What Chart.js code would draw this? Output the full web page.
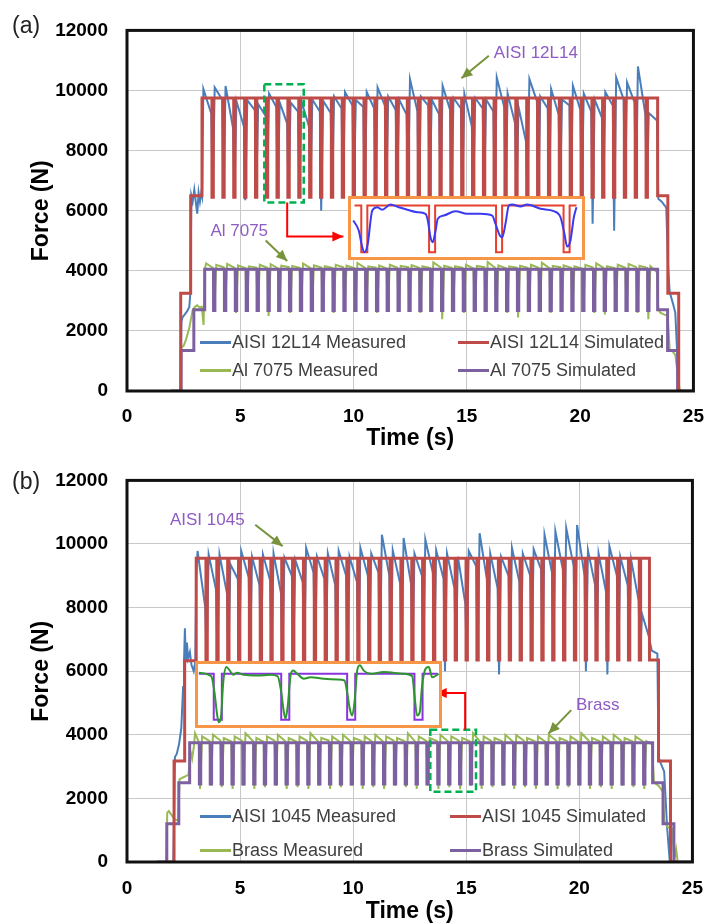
<!DOCTYPE html>
<html>
<head>
<meta charset="utf-8">
<script src="https://cdn.jsdelivr.net/npm/chart.js@4.4.1/dist/chart.umd.min.js"></script>
<style>
  body { margin: 0; background: #fff; }
  canvas { display: block; }
  #page { position: relative; width: 718px; height: 923px; font-family: "Liberation Sans", Arial, sans-serif; }
  .panel { position: absolute; left: 0; width: 718px; }
  .tag { position: absolute; left: 12px; font-size: 23px; line-height: 23px; color: #222; }
  .inset { position: absolute; box-sizing: border-box; border: 3px solid #f79646; background: #fff; }
  .legend { position: absolute; display: grid; color: #404040; font-size: 18px; }
  .legend .item { display: flex; align-items: center; white-space: nowrap; }
  .legend .swatch { width: 31px; height: 3px; margin-right: 1px; }
</style>
</head>
<body>
<div id="page">
  <div class="panel" style="top:0;height:450px"><canvas id="chartA" width="718" height="450"></canvas></div>
  <div class="panel" style="top:450px;height:473px"><canvas id="chartB" width="718" height="473"></canvas></div>
  <div class="tag" style="top:14px">(a)</div>
  <div class="tag" style="top:470px">(b)</div>
  <div class="legend" id="legendA" style="left:200px;top:328px;grid-template-columns:258px auto;grid-auto-rows:28.5px"></div>
  <div class="legend" id="legendB" style="left:200px;top:799px;grid-template-columns:250px auto;grid-auto-rows:34px"></div>
  <div class="inset" style="left:348px;top:196px;width:237px;height:64px"><canvas id="insetA" width="231" height="58"></canvas></div>
  <div class="inset" style="left:195px;top:661px;width:247px;height:67px"><canvas id="insetB" width="241" height="61"></canvas></div>
</div>
<script>
// ---------- (a) AISI 12L14 / Al 7075 ----------
const a12UpT = [2.36, 2.37, 2.81, 3.31];
const a12UpF = [0, 3250, 6500, 9750];
const a12Teeth = [3.75, 4.23, 4.71, 5.19, 5.67, 6.15, 6.62, 7.10, 7.58, 8.06,
  8.54, 9.02, 9.50, 9.98, 10.46, 10.94, 11.41, 11.89, 12.37, 12.85,
  13.33, 13.81, 14.29, 14.77, 15.25, 15.73, 16.20, 16.68, 17.16, 17.64,
  18.12, 18.60, 19.08, 19.56, 20.04, 20.52, 20.99, 21.47, 21.95, 22.43, 22.91];
const a12Levels = [9750, 6450];
const a12DownT = [23.42, 23.87, 24.35];
const a12DownF = [6500, 3250, 0];

const a12RampT = [0, 2.37, 2.40, 2.45, 2.55, 2.65, 2.75, 2.80, 2.84, 2.90, 2.97, 3.05, 3.10, 3.16, 3.22, 3.28, 3.31];
const a12RampF = [0, 0, 2300, 2450, 2550, 2650, 2800, 3300, 6500, 6300, 6700, 6200, 5900, 6600, 6300, 6600, 6500];
const a12Peak = [10050, 10100, 10150, 9650, 9680, 9550, 9900, 9600, 9600, 9650,
  9700, 9650, 9800, 9950, 9680, 9950, 10100, 9800, 9700, 10380,
  9800, 9700, 10160, 9750, 9890, 9750, 9700, 10430, 9900, 9450,
  10380, 9800, 10050, 9700, 10160, 9900, 9700, 9950, 10430, 10270,
  10800, 9250];
const a12Pre = [9230, 9700, 8750, 8800, 9350, 9150, 9450, 8900, 9300, 8800,
  9300, 9250, 9400, 9500, 9450, 9400, 9500, 9350, 9200, 9300,
  9500, 9200, 9350, 9400, 8800, 9400, 9300, 9450, 8900, 8300,
  9650, 9400, 9200, 9500, 9350, 9300, 9100, 9500, 9700, 9600,
  9200, 9000];
const a12Dip = [6450, 6450, 6450, 6350, 6450, 6450, 6450, 6450, 6450, 6450,
  6000, 6450, 6450, 6450, 6300, 6450, 6450, 6450, 6450, 5700,
  6450, 6450, 6450, 6450, 6350, 6450, 6450, 6450, 6450, 6450,
  6300, 6450, 6450, 6450, 6450, 5570, 6450, 5330, 6450, 6450, 6450];
const a12TailT = [23.45, 23.60, 23.80, 23.88, 23.95, 24.10, 24.20, 24.30, 24.36, 25];
const a12TailF = [6400, 6300, 6100, 4200, 3300, 2900, 2600, 1000, 0, 0];

const a70UpT = [1.93, 2.39, 2.95, 3.43];
const a70UpF = [0, 1350, 2700, 4050];
const a70Teeth = [3.82, 4.30, 4.78, 5.26, 5.74, 6.22, 6.69, 7.17, 7.65, 8.13,
  8.61, 9.09, 9.57, 10.05, 10.53, 11.01, 11.48, 11.96, 12.44, 12.92,
  13.40, 13.88, 14.36, 14.84, 15.32, 15.80, 16.27, 16.75, 17.23, 17.71,
  18.19, 18.67, 19.15, 19.63, 20.11, 20.59, 21.06, 21.54, 22.02, 22.50, 22.98];
const a70Levels = [4050, 2680];
const a70DownT = [23.42, 23.86, 24.30];
const a70DownF = [2700, 1350, 0];

const a70RampT = [0.46, 2.37, 2.40, 2.50, 2.60, 2.75, 2.90, 3.00, 3.10, 3.20, 3.30, 3.38, 3.43];
const a70RampF = [0, 0, 1450, 1500, 1700, 2100, 2700, 2800, 2850, 2780, 2800, 2200, 4020];
const a70Peak = [4250, 4200, 4230, 4180, 4150, 4200, 4220, 4170, 4160, 4240,
  4180, 4150, 4200, 4170, 4260, 4150, 4180, 4200, 4160, 4190,
  4150, 4280, 4170, 4150, 4200, 4160, 4290, 4180, 4150, 4170,
  4200, 4270, 4160, 4180, 4150, 4200, 4250, 4150, 4200, 4230,
  4170, 4150];
const a70Pre = [4100, 4120, 4100, 4090, 4110, 4100, 4080, 4120, 4100, 4090,
  4110, 4100, 4120, 4090, 4100, 4110, 4080, 4100, 4120, 4100,
  4090, 4110, 4100, 4100, 4080, 4120, 4100, 4090, 4110, 4100,
  4100, 4090, 4120, 4100, 4080, 4110, 4100, 4090, 4100, 4120,
  4100, 3950];
const a70Dip = [2650, 2650, 2600, 2650, 2650, 2500, 2650, 2600, 2650, 2650,
  2650, 2600, 2650, 2650, 2650, 2600, 2650, 2650, 2650, 2600,
  2650, 2390, 2650, 2600, 2650, 2650, 2650, 2600, 2450, 2650,
  2650, 2600, 2650, 2650, 2650, 2600, 2550, 2650, 2650, 2600, 2390];
const a70TailT = [23.45, 23.55, 23.70, 23.86, 23.95, 24.10, 24.20, 24.30, 24.40, 25];
const a70TailF = [2700, 2600, 2550, 2500, 1400, 1300, 1200, 600, 0, 0];

// ---------- (b) AISI 1045 / Brass ----------
const b45UpT = [1.76, 2.08, 2.55, 3.06];
const b45UpF = [0, 3180, 6330, 9550];
const b45Teeth = [3.49, 3.97, 4.45, 4.93, 5.41, 5.89, 6.36, 6.84, 7.32, 7.80,
  8.28, 8.76, 9.24, 9.72, 10.20, 10.68, 11.15, 11.63, 12.11, 12.59,
  13.07, 13.55, 14.03, 14.51, 14.99, 15.47, 15.94, 16.42, 16.90, 17.38,
  17.86, 18.34, 18.82, 19.30, 19.78, 20.26, 20.73, 21.21, 21.69, 22.17, 22.65];
const b45Levels = [9550, 6350];
const b45DownT = [23.10, 23.50, 24.03];
const b45DownF = [6350, 3180, 0];

const b45RampT = [0, 2.05, 2.12, 2.20, 2.30, 2.40, 2.48, 2.52, 2.56, 2.60, 2.65, 2.70, 2.78, 2.85, 2.95, 3.02, 3.06];
const b45RampF = [0, 0, 3300, 3400, 3700, 4200, 5500, 6300, 7350, 6300, 6900, 6400, 6600, 6200, 6000, 6300, 9000];
const b45Peak = [9780, 9670, 9670, 9360, 9780, 9600, 9670, 9700, 9570, 9500,
  9880, 9600, 9700, 9780, 9600, 9880, 9700, 10290, 9800, 10190,
  9700, 10140, 9800, 9700, 9600, 9780, 10340, 9700, 9600, 9880,
  9700, 9830, 10290, 10400, 10500, 10600, 9800, 9700, 9930, 9600,
  9500, 7800];
const b45Pre = [8000, 8550, 8450, 8900, 8950, 8700, 8850, 8450, 9000, 8800,
  9100, 8900, 8700, 9000, 8800, 9000, 9100, 9000, 8750, 8740,
  9000, 9100, 8900, 8600, 8120, 9300, 8900, 8600, 9000, 8800,
  9000, 9200, 9100, 9200, 9300, 9000, 8700, 8500, 9000, 8700,
  8230, 7100];
const b45Dip = [6350, 6350, 6350, 6350, 6350, 6350, 6350, 6350, 6350, 6350,
  6350, 6350, 6000, 5950, 6350, 6350, 6350, 6350, 6350, 6350,
  6350, 6350, 6000, 6350, 6350, 6350, 6350, 5900, 6350, 6350,
  6350, 6350, 6350, 6350, 6350, 6000, 6350, 5900, 6350, 6350, 6350];
const b45TailT = [23.20, 23.45, 23.50, 23.60, 23.75, 23.88, 24.00, 25];
const b45TailF = [6650, 6550, 3300, 3100, 2850, 1100, 0, 0];

const brUpT = [1.33, 1.76, 2.29, 2.77];
const brUpF = [0, 1200, 2490, 3750];
const brTeeth = [3.20, 3.68, 4.16, 4.64, 5.12, 5.60, 6.07, 6.55, 7.03, 7.51,
  7.99, 8.47, 8.95, 9.43, 9.91, 10.39, 10.86, 11.34, 11.82, 12.30,
  12.78, 13.26, 13.74, 14.22, 14.70, 15.18, 15.65, 16.13, 16.61, 17.09,
  17.57, 18.05, 18.53, 19.01, 19.49, 19.97, 20.44, 20.92, 21.40, 21.88, 22.36, 22.84];
const brLevels = [3750, 2450];
const brDownT = [23.24, 23.70, 24.18];
const brDownF = [2490, 1200, 0];

const brRampT = [0.46, 1.74, 1.78, 1.85, 1.95, 2.10, 2.27, 2.32, 2.45, 2.60, 2.72, 2.80, 2.88, 2.95];
const brRampF = [0, 0, 1550, 1600, 1500, 1350, 1300, 2600, 2650, 2700, 2750, 3500, 3250, 3600];
const brPeak = [4050, 3950, 4000, 3900, 3950, 4050, 3900, 3950, 4000, 3900,
  3950, 4050, 3900, 3950, 4000, 3900, 3950, 4000, 3950, 3900,
  4050, 3950, 3900, 4000, 3950, 3900, 4050, 3950, 3900, 4000,
  3990, 3900, 3950, 4000, 3900, 3950, 4050, 3900, 3950, 4000,
  3900, 3950, 3800];
const brPre = [3780, 3800, 3820, 3790, 3810, 3800, 3780, 3820, 3800, 3790,
  3810, 3800, 3820, 3780, 3800, 3810, 3790, 3800, 3820, 3800,
  3780, 3810, 3800, 3790, 3820, 3800, 3780, 3810, 3800, 3790,
  3820, 3800, 3780, 3810, 3800, 3790, 3820, 3800, 3780, 3810,
  3800, 3790, 3700];
const brDip = [2300, 2400, 2350, 2300, 2400, 2300, 2350, 2400, 2300, 2350,
  2300, 2400, 2300, 2350, 2400, 2300, 2350, 2300, 2400, 2350,
  2300, 2400, 2300, 2350, 2290, 2400, 2300, 2350, 2400, 2300,
  2350, 2300, 2400, 2300, 2350, 2400, 2300, 2350, 2300, 2400,
  2350, 2300];
const brTailT = [23.30, 23.50, 23.70, 23.75, 23.90, 24.10, 24.20, 24.28, 24.35, 25];
const brTailF = [2500, 2400, 2200, 1300, 1100, 1050, 100, 400, 0, 0];

// ---------- zoomed insets ----------
const insetATime = [6.091, 6.130, 6.155, 6.171, 6.194, 6.226, 6.261, 6.297, 6.356, 6.415,
  6.475, 6.545, 6.605, 6.621, 6.640, 6.656, 6.676, 6.692, 6.735, 6.818,
  6.901, 6.995, 7.079, 7.102, 7.133, 7.150, 7.173, 7.197, 7.221, 7.280,
  7.327, 7.422, 7.516, 7.564, 7.592, 7.611, 7.635, 7.659, 7.678];
const insetAForce = [8690, 7980, 6800, 6450, 7040, 9400, 9630, 9450, 9820, 9630,
  9450, 9280, 9160, 8690, 7510, 7160, 7980, 8810, 9040, 9350,
  9160, 9160, 9040, 8460, 7630, 7510, 8460, 9750, 9820, 9680,
  9820, 9520, 9350, 8920, 7750, 6850, 7280, 8920, 9630];
const insetADips = [6.148, 6.630, 7.106, 7.586];
const insetASpan = [6.100, 7.678];

const insetBTime = [13.633, 13.722, 13.745, 13.765, 13.776, 13.793, 13.808, 13.831, 13.855, 13.880,
  13.908, 13.956, 14.052, 14.147, 14.199, 14.224, 14.243, 14.255, 14.271, 14.291,
  14.310, 14.339, 14.386, 14.434, 14.529, 14.626, 14.678, 14.697, 14.716, 14.733,
  14.750, 14.769, 14.788, 14.816, 14.864, 14.960, 15.103, 15.164, 15.180, 15.199,
  15.218, 15.235, 15.259, 15.283, 15.307, 15.354];
const insetBForce = [3780, 3680, 3230, 2570, 2380, 2570, 3510, 3940, 3840, 3720,
  3780, 3720, 3700, 3720, 3680, 3230, 2670, 2480, 2850, 3700,
  3840, 3750, 3610, 3650, 3610, 3590, 3560, 3230, 2760, 2570,
  2950, 3840, 3990, 3840, 3750, 3800, 3750, 3680, 3140, 2570,
  2670, 3420, 3890, 3940, 3650, 3750];
const insetBDips = [13.740, 14.224, 14.697, 15.180];
const insetBSpan = [13.633, 15.347];

const BLUE = '#4a7ebb', RED = '#be4b48', GREEN = '#98b954', PURPLE = '#7d60a0';
const FONT = '"Liberation Sans", Arial, sans-serif';
const DIP = 0.06;

Chart.defaults.font.family = FONT;

function stairs(times, levels) {
  const pts = [{ x: times[0], y: levels[0] }];
  for (let i = 1; i < times.length; i++) {
    pts.push({ x: times[i], y: levels[i - 1] }, { x: times[i], y: levels[i] });
  }
  return pts;
}

function simulated(upT, upF, teeth, levels, downT, downF, endT) {
  const [top, bottom] = levels;
  const pts = stairs(upT, upF);
  teeth.forEach(t => pts.push({ x: t, y: top }, { x: t, y: bottom }, { x: t + DIP, y: bottom }, { x: t + DIP, y: top }));
  let level = top;
  downT.forEach((t, i) => {
    pts.push({ x: t, y: level }, { x: t, y: downF[i] });
    level = downF[i];
  });
  pts.push({ x: endT, y: level });
  return pts;
}

function measured(rampT, rampF, teeth, peak, pre, dip, endT, tailT, tailF) {
  const pts = rampT.map((t, i) => ({ x: t, y: rampF[i] }));
  pts.push({ x: rampT[rampT.length - 1] + 0.06, y: peak[0] });
  teeth.forEach((t, k) => {
    pts.push({ x: t - 0.03, y: pre[k] }, { x: t + 0.03, y: dip[k] }, { x: t + 0.12, y: peak[k + 1] });
  });
  pts.push({ x: endT - 0.03, y: pre[teeth.length] });
  tailT.forEach((t, i) => pts.push({ x: t, y: tailF[i] }));
  return pts;
}

// frame round the plot, dashed zoom window, arrows and material labels
function overlay(cfg) {
  return {
    id: 'overlay',
    afterDatasetsDraw(chart) {
      const { ctx, chartArea: a, scales: { x, y } } = chart;
      const px = ([t, f]) => [x.getPixelForValue(t), y.getPixelForValue(f)];
      ctx.save();
      const [x0, y0] = px([cfg.box[0], cfg.box[2]]);
      const [x1, y1] = px([cfg.box[1], cfg.box[3]]);
      ctx.strokeStyle = '#00b050';
      ctx.lineWidth = 2.5;
      ctx.setLineDash([7, 4]);
      ctx.strokeRect(x0, y0, x1 - x0, y1 - y0);
      ctx.setLineDash([]);
      cfg.arrows.forEach(ar => {
        const p = ar.path.map(px);
        ctx.strokeStyle = ar.color;
        ctx.fillStyle = ar.color;
        ctx.lineWidth = 2;
        ctx.beginPath();
        p.forEach(([u, v], i) => (i ? ctx.lineTo(u, v) : ctx.moveTo(u, v)));
        ctx.stroke();
        const [ux, uy] = p[p.length - 2];
        const [vx, vy] = p[p.length - 1];
        const ang = Math.atan2(vy - uy, vx - ux);
        const c = Math.cos(ang), s = Math.sin(ang);
        ctx.beginPath();
        ctx.moveTo(vx, vy);
        ctx.lineTo(vx - 11 * c + 5 * s, vy - 11 * s - 5 * c);
        ctx.lineTo(vx - 11 * c - 5 * s, vy - 11 * s + 5 * c);
        ctx.closePath();
        ctx.fill();
      });
      ctx.font = '17px ' + FONT;
      ctx.fillStyle = '#8e5cc4';
      ctx.textBaseline = 'middle';
      cfg.labels.forEach(l => {
        const [u, v] = px(l.at);
        ctx.fillText(l.text, u, v);
      });
      ctx.strokeStyle = '#111';
      ctx.lineWidth = 3;
      ctx.strokeRect(a.left, a.top, a.right - a.left, a.bottom - a.top);
      ctx.restore();
    }
  };
}

function panelOptions(padTop, xHeight, tickPad) {
  const grid = { color: '#c8c8c8', lineWidth: 1, drawTicks: false };
  const tickFont = { size: 19, weight: 'bold' };
  const titleFont = { size: 23, weight: 'bold', lineHeight: 1 };
  return {
    responsive: false,
    animation: false,
    devicePixelRatio: 1,
    layout: { padding: { top: padTop, right: 15, left: 0, bottom: 0 } },
    plugins: { legend: { display: false }, tooltip: { enabled: false } },
    elements: { point: { radius: 0 }, line: { tension: 0 } },
    scales: {
      x: {
        type: 'linear', min: 0, max: 25,
        border: { display: false }, grid,
        ticks: { stepSize: 5, padding: tickPad, color: '#000', font: tickFont },
        title: { display: true, text: 'Time (s)', color: '#000', font: titleFont, padding: 0 },
        afterFit: s => { s.height = xHeight; }
      },
      y: {
        min: 0, max: 12000,
        border: { display: false }, grid,
        ticks: { stepSize: 2000, padding: 19, color: '#000', font: tickFont, callback: v => String(v) },
        title: { display: true, text: 'Force (N)', color: '#000', font: titleFont, padding: { top: 30, bottom: 0 } },
        afterFit: s => { s.width = 127; }
      }
    }
  };
}

function fillLegend(chart, id) {
  const box = document.getElementById(id);
  chart.data.datasets.forEach(ds => {
    const item = document.createElement('div');
    item.className = 'item';
    const sw = document.createElement('span');
    sw.className = 'swatch';
    sw.style.background = ds.borderColor;
    const tx = document.createElement('span');
    tx.textContent = ds.label;
    item.append(sw, tx);
    box.append(item);
  });
}

const chartA = new Chart(document.getElementById('chartA'), {
  type: 'line',
  data: {
    datasets: [
      { label: 'AISI 12L14 Measured', data: measured(a12RampT, a12RampF, a12Teeth, a12Peak, a12Pre, a12Dip, a12DownT[0], a12TailT, a12TailF),
        borderColor: BLUE, borderWidth: 2, order: 4 },
      { label: 'AISI 12L14 Simulated', data: simulated(a12UpT, a12UpF, a12Teeth, a12Levels, a12DownT, a12DownF, 24.5),
        borderColor: RED, borderWidth: 3, order: 1 },
      { label: 'Al 7075 Measured', data: measured(a70RampT, a70RampF, a70Teeth, a70Peak, a70Pre, a70Dip, a70DownT[0], a70TailT, a70TailF),
        borderColor: GREEN, borderWidth: 2, order: 3 },
      { label: 'Al 7075 Simulated', data: simulated(a70UpT, a70UpF, a70Teeth, a70Levels, a70DownT, a70DownF, 25),
        borderColor: PURPLE, borderWidth: 3, order: 2 }
    ]
  },
  options: panelOptions(22, 59, 14),
  plugins: [overlay({
    box: [6.06, 7.80, 10211, 6276],
    arrows: [
      { path: [[15.97, 11154], [14.76, 10406]], color: '#77933c' },
      { path: [[6.12, 5008], [7.07, 4325]], color: '#77933c' },
      { path: [[7.07, 6276], [7.07, 5138], [9.55, 5138]], color: '#ff0000' }
    ],
    labels: [{ at: [16.19, 11252], text: 'AISI 12L14' }, { at: [3.68, 5301], text: 'Al 7075' }]
  })]
});

const chartB = new Chart(document.getElementById('chartB'), {
  type: 'line',
  data: {
    datasets: [
      { label: 'AISI 1045 Measured', data: measured(b45RampT, b45RampF, b45Teeth, b45Peak, b45Pre, b45Dip, b45DownT[0], b45TailT, b45TailF),
        borderColor: BLUE, borderWidth: 2, order: 4 },
      { label: 'AISI 1045 Simulated', data: simulated(b45UpT, b45UpF, b45Teeth, b45Levels, b45DownT, b45DownF, 24.3),
        borderColor: RED, borderWidth: 3, order: 1 },
      { label: 'Brass Measured', data: measured(brRampT, brRampF, brTeeth, brPeak, brPre, brDip, brDownT[0], brTailT, brTailF),
        borderColor: GREEN, borderWidth: 2, order: 3 },
      { label: 'Brass Simulated', data: simulated(brUpT, brUpF, brTeeth, brLevels, brDownT, brDownF, 25),
        borderColor: PURPLE, borderWidth: 3, order: 2 }
    ]
  },
  options: panelOptions(25, 61, 15),
  plugins: [overlay({
    box: [13.41, 15.43, 4155, 2211],
    arrows: [
      { path: [[5.67, 10605], [6.88, 9933]], color: '#77933c' },
      { path: [[19.64, 4776], [18.64, 4041]], color: '#77933c' },
      { path: [[14.95, 4155], [14.95, 5312], [13.65, 5312]], color: '#ff0000' }
    ],
    labels: [{ at: [1.90, 10739], text: 'AISI 1045' }, { at: [19.85, 4940], text: 'Brass' }]
  })]
});

fillLegend(chartA, 'legendA');
fillLegend(chartB, 'legendB');

// insets: a few cycles magnified
function insetSim(span, dips, width, levels) {
  const [top, bottom] = levels;
  const pts = [{ x: span[0], y: top }];
  dips.forEach(t => pts.push({ x: t, y: top }, { x: t, y: bottom }, { x: t + width, y: bottom }, { x: t + width, y: top }));
  pts.push({ x: span[1], y: top });
  return pts;
}

function insetChart(id, xr, yr, datasets) {
  return new Chart(document.getElementById(id), {
    type: 'line',
    data: { datasets },
    options: {
      responsive: false, animation: false, devicePixelRatio: 1,
      layout: { padding: 0 },
      plugins: { legend: { display: false }, tooltip: { enabled: false } },
      elements: { point: { radius: 0 } },
      scales: {
        x: { type: 'linear', display: false, min: xr[0], max: xr[1] },
        y: { display: false, min: yr[0], max: yr[1] }
      }
    }
  });
}

insetChart('insetA', [6.075, 7.717], [6110, 10210], [
  { data: insetATime.map((t, i) => ({ x: t, y: insetAForce[i] })), borderColor: '#3a3af0', borderWidth: 2, cubicInterpolationMode: 'monotone', order: 1 },
  { data: insetSim(insetASpan, insetADips, 0.043, a12Levels), borderColor: '#e6402e', borderWidth: 2, order: 2 }
]);

insetChart('insetB', [13.627, 15.356], [2303, 4027], [
  { data: insetBTime.map((t, i) => ({ x: t, y: insetBForce[i] })), borderColor: '#2e962e', borderWidth: 2, cubicInterpolationMode: 'monotone', order: 1 },
  { data: insetSim(insetBSpan, insetBDips, 0.058, brLevels), borderColor: '#8a34e0', borderWidth: 2, order: 2 }
]);
</script>
</body>
</html>
